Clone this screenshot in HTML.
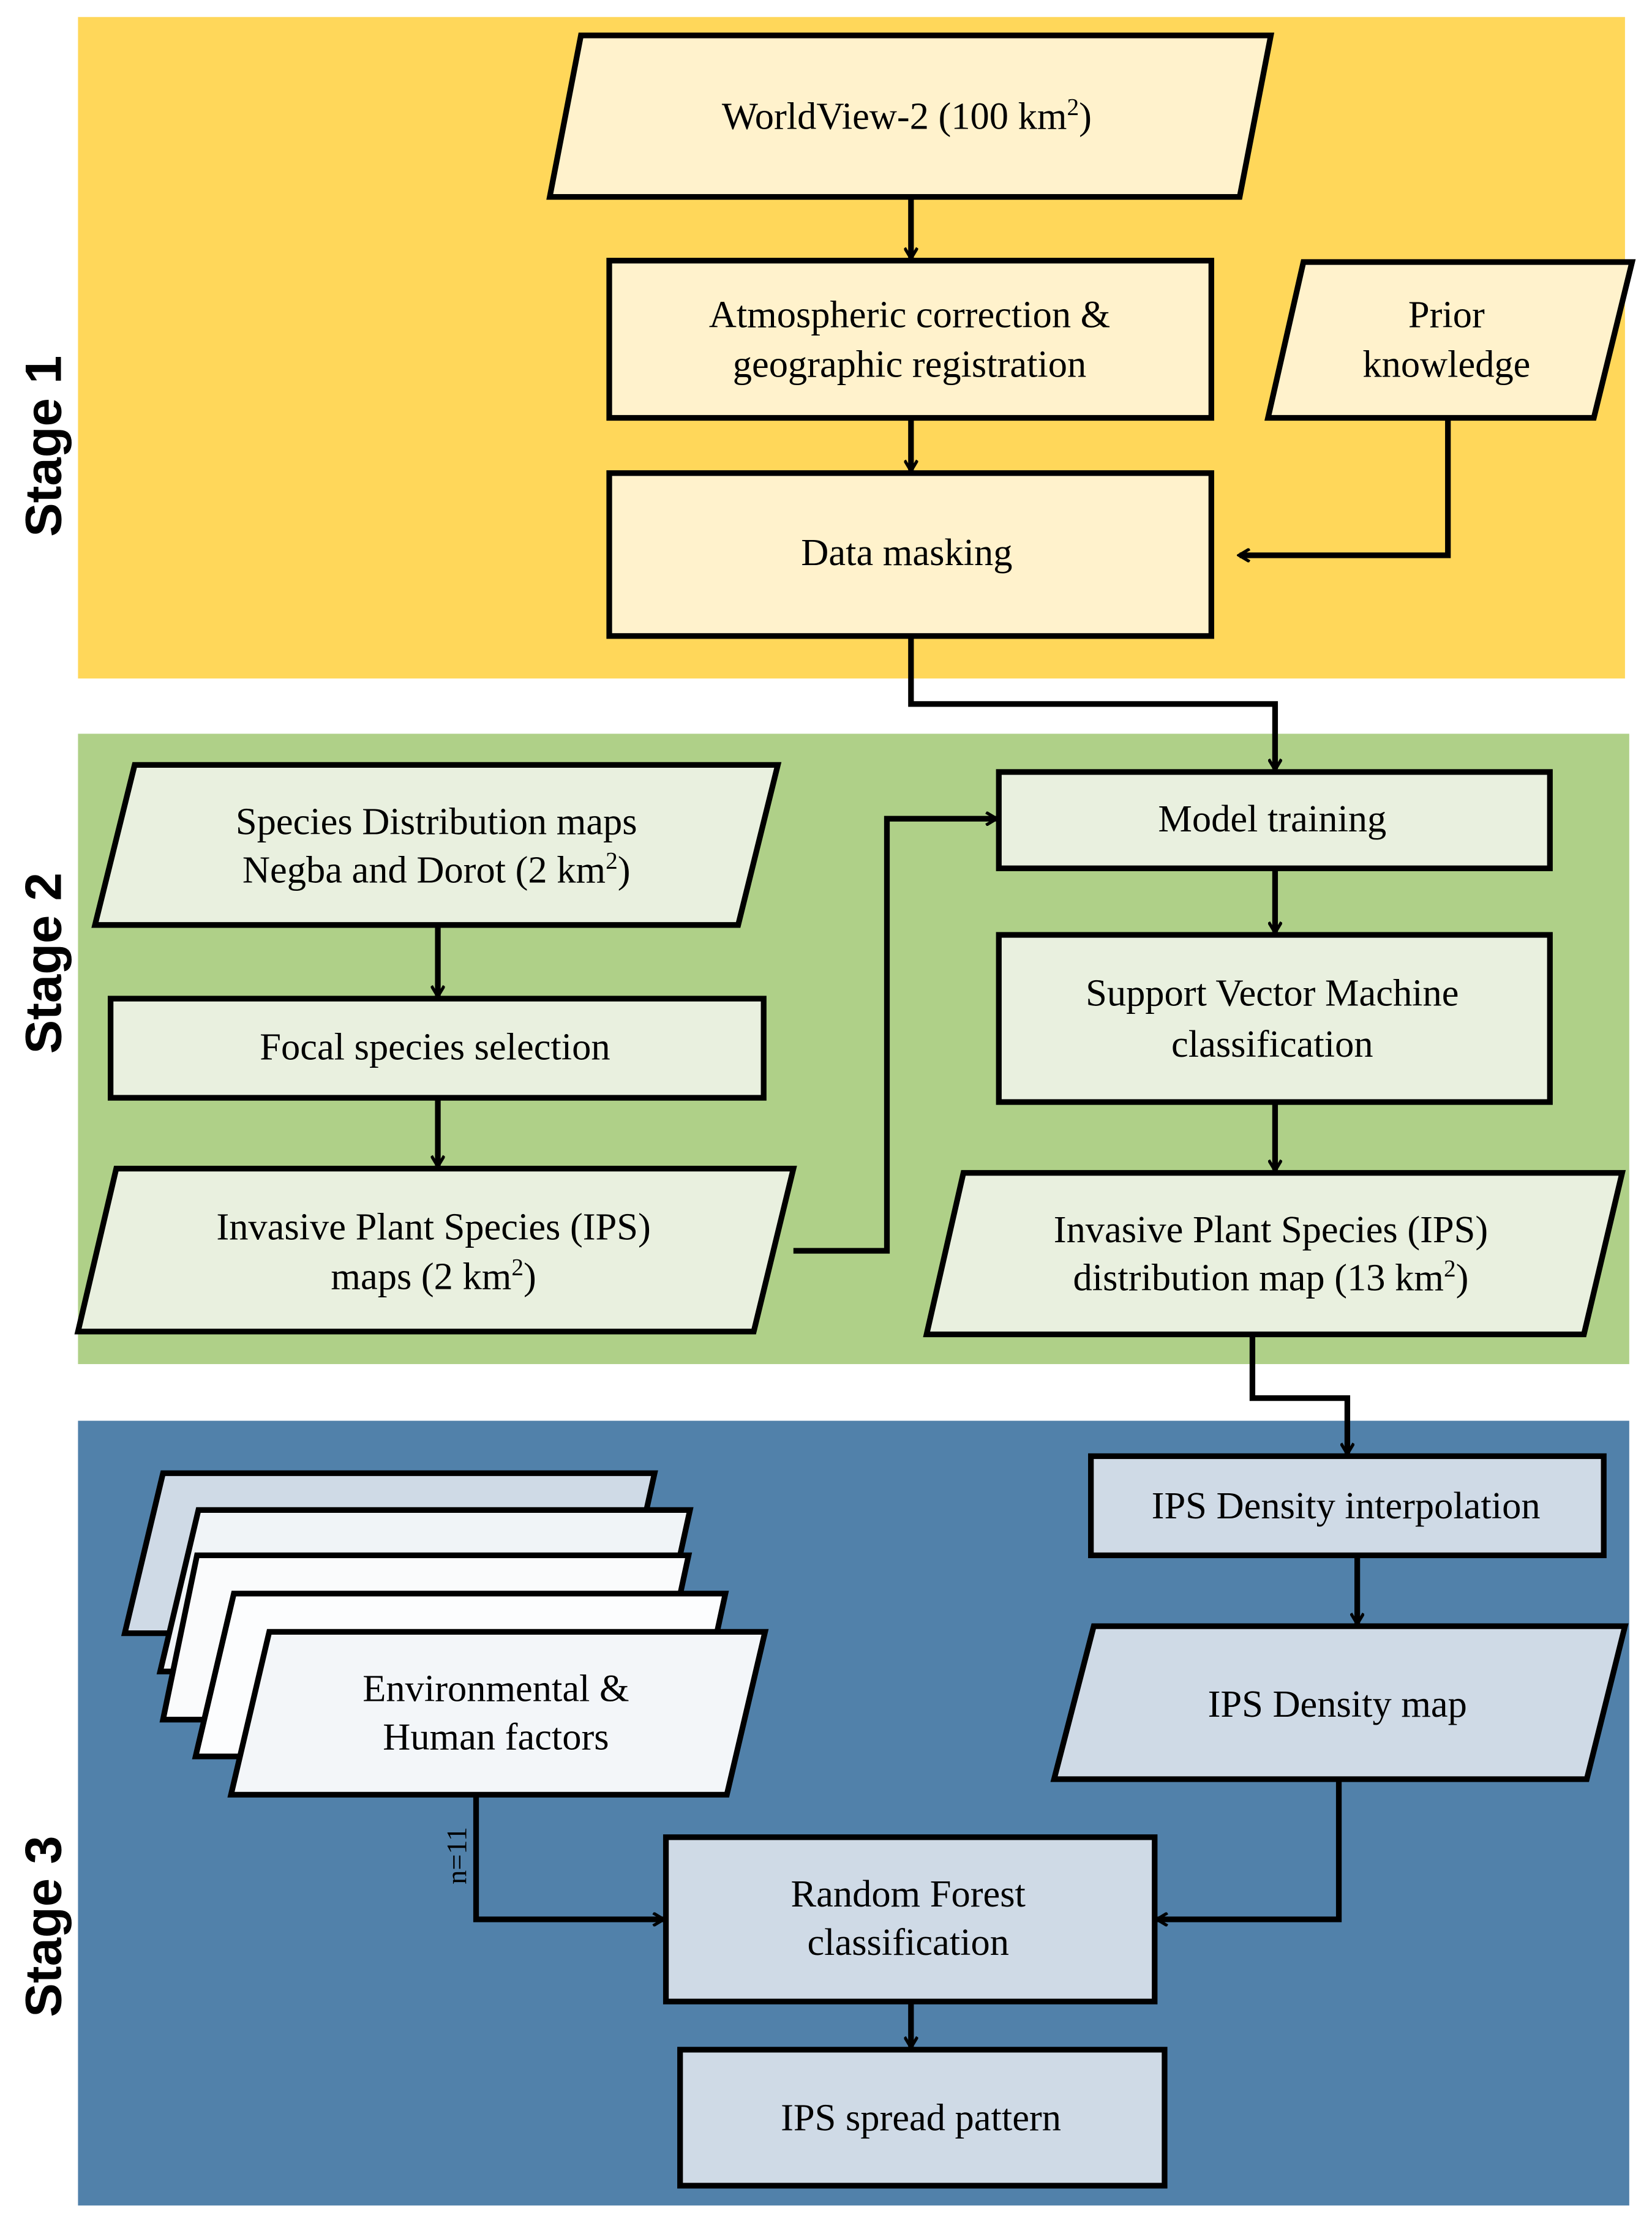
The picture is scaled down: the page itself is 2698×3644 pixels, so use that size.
<!DOCTYPE html>
<html><head><meta charset="utf-8"><style>html,body{margin:0;padding:0;background:#fff}svg{display:block}</style></head>
<body>
<svg xmlns="http://www.w3.org/2000/svg" width="2698" height="3644" viewBox="0 0 1166 1575">
<defs>
<marker id="a" markerWidth="10" markerHeight="10" refX="8" refY="5" orient="auto" markerUnits="userSpaceOnUse" viewBox="0 0 10 10">
<polyline points="1,0.5 8.5,5 1,9.5" fill="none" stroke="#000" stroke-width="2.2"/>
</marker>
</defs>
<rect width="1166" height="1575" fill="#fff"/>
<rect x="55" y="12" width="1092" height="467" fill="#FFD75A"/>
<rect x="55" y="518" width="1095" height="445" fill="#AFD088"/>
<rect x="55" y="1003" width="1095" height="554" fill="#5181AA"/>
<g font-family="Liberation Sans, sans-serif" font-weight="bold" font-size="36" fill="#000" text-anchor="middle">
<text transform="translate(43,315) rotate(-90)">Stage 1</text>
<text transform="translate(43,680) rotate(-90)">Stage 2</text>
<text transform="translate(43,1360) rotate(-90)">Stage 3</text>
</g>
<g stroke="#000" stroke-width="4" stroke-linejoin="miter">
<polygon points="410,25 897,25 875,139 388,139" fill="#FFF2CC"/>
<rect x="430" y="184" width="425" height="111" fill="#FFF2CC"/>
<polygon points="920,185 1152,185 1125,295 895,295" fill="#FFF2CC"/>
<rect x="430" y="334" width="425" height="115" fill="#FFF2CC"/>
<polygon points="95,540 549,540 521,653 67,653" fill="#E9F0DF"/>
<rect x="78" y="705" width="461" height="70" fill="#E9F0DF"/>
<polygon points="82,825 560,825 532,940 55,940" fill="#E9F0DF"/>
<rect x="705" y="545" width="389" height="68" fill="#E9F0DF"/>
<rect x="705" y="660" width="389" height="118" fill="#E9F0DF"/>
<polygon points="680,828 1145,828 1118,942 654,942" fill="#E9F0DF"/>
<rect x="770" y="1028" width="362" height="70" fill="#CFDAE6"/>
<polygon points="772,1148 1147,1148 1120,1256 744,1256" fill="#CFDAE6"/>
<polygon points="115,1040 462,1040 437,1153 88,1153" fill="#CFDAE6"/>
<polygon points="140,1066 487,1066 462,1180 113,1180" fill="#F0F4F7"/>
<polygon points="139,1098 486,1098 461,1214 115,1214" fill="#FAFBFC"/>
<polygon points="165,1125 512,1125 487,1240 138,1240" fill="#FCFDFE"/>
<polygon points="190,1152 540,1152 513,1267 163,1267" fill="#F3F6F9"/>
<rect x="470" y="1297" width="345" height="116" fill="#CFDAE6"/>
<rect x="480" y="1447" width="342" height="96" fill="#CFDAE6"/>
</g>
<g fill="none" stroke="#000" stroke-width="4" marker-end="url(#a)">
<line x1="643" y1="139" x2="643" y2="182"/>
<line x1="643" y1="295" x2="643" y2="332"/>
<polyline points="1022,295 1022,392 875,392"/>
<polyline points="643,449 643,497 900,497 900,543"/>
<line x1="309" y1="653" x2="309" y2="703"/>
<line x1="309" y1="775" x2="309" y2="823"/>
<polyline points="560,883 626,883 626,578 703,578"/>
<line x1="900" y1="613" x2="900" y2="658"/>
<line x1="900" y1="778" x2="900" y2="826"/>
<polyline points="884,942 884,987 951,987 951,1026"/>
<line x1="958" y1="1098" x2="958" y2="1146"/>
<polyline points="945,1256 945,1355 817,1355"/>
<polyline points="336,1267 336,1355 468,1355"/>
<line x1="643" y1="1413" x2="643" y2="1445"/>
</g>
<g font-family="Liberation Serif, serif" font-size="27" fill="#000" text-anchor="middle">
<text x="640" y="91">WorldView-2  (100 km<tspan font-size="17" dy="-10">2</tspan><tspan dy="10">)</tspan></text>
<text x="642" y="231">Atmospheric correction &amp;</text>
<text x="642" y="266">geographic registration</text>
<text x="1021" y="231">Prior</text>
<text x="1021" y="266">knowledge</text>
<text x="640" y="399">Data masking</text>
<text x="308" y="589">Species Distribution maps</text>
<text x="308" y="623">Negba and Dorot  (2 km<tspan font-size="17" dy="-10">2</tspan><tspan dy="10">)</tspan></text>
<text x="307" y="748">Focal species selection</text>
<text x="306" y="875">Invasive Plant  Species (IPS)</text>
<text x="306" y="910">maps (2 km<tspan font-size="17" dy="-10">2</tspan><tspan dy="10">)</tspan></text>
<text x="898" y="587">Model  training</text>
<text x="898" y="710">Support Vector  Machine</text>
<text x="898" y="746">classification</text>
<text x="897" y="877">Invasive Plant Species (IPS)</text>
<text x="897" y="911">distribution map (13 km<tspan font-size="17" dy="-10">2</tspan><tspan dy="10">)</tspan></text>
<text x="950" y="1072">IPS Density interpolation</text>
<text x="944" y="1212">IPS Density map</text>
<text x="350" y="1201">Environmental  &amp;</text>
<text x="350" y="1235">Human factors</text>
<text x="641" y="1346">Random Forest</text>
<text x="641" y="1380">classification</text>
<text x="650" y="1504">IPS spread pattern</text>
<text transform="translate(329,1310) rotate(-90)" font-size="20">n=11</text>
</g>
</svg>
</body></html>
